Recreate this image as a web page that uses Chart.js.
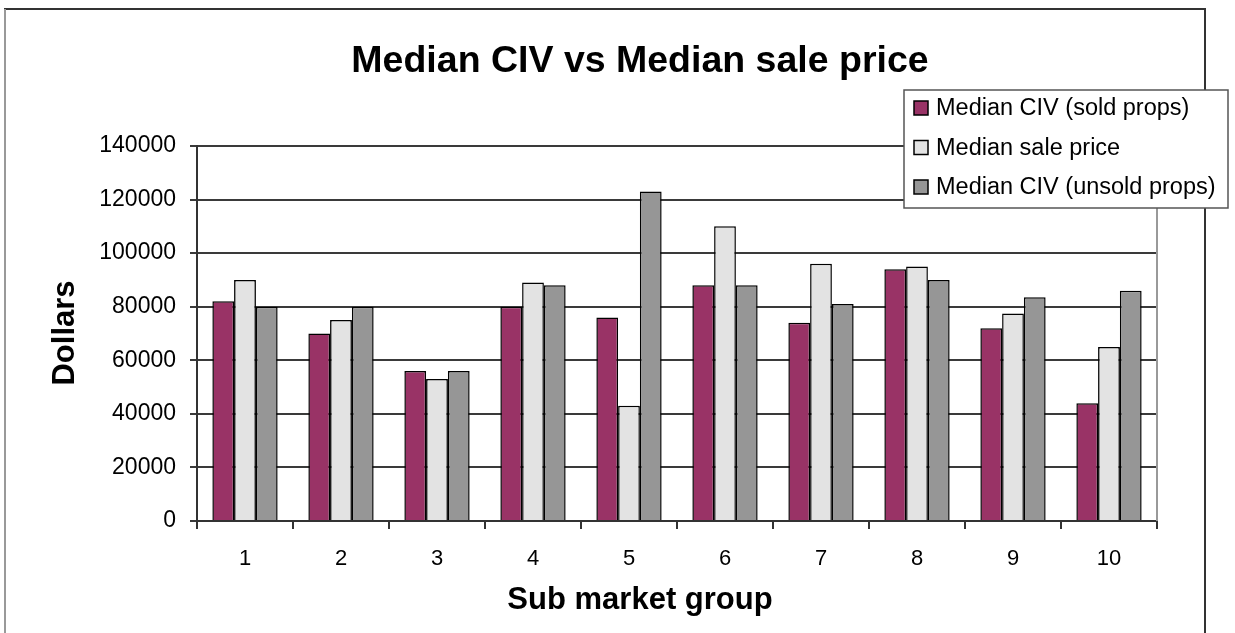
<!DOCTYPE html>
<html>
<head>
<meta charset="utf-8">
<script src="https://cdn.jsdelivr.net/npm/chart.js@4/dist/chart.umd.min.js"></script>
<style>
  html, body { margin: 0; padding: 0; background: #fff; }
  canvas { display: block; }
</style>
</head>
<body>
<canvas id="c" width="1235" height="633"></canvas>
<script>
const categories = ["1", "2", "3", "4", "5", "6", "7", "8", "9", "10"];
const soldCIV   = [82000, 70000, 56000, 80000, 76000, 88000, 74000, 94000, 72000, 44000];
const salePrice = [90000, 75000, 53000, 89000, 43000, 110000, 96000, 95000, 77500, 65000];
const unsoldCIV = [80000, 80000, 56000, 88000, 123000, 88000, 81000, 90000, 83500, 86000];
const seriesLabels = ["Median CIV (sold props)", "Median sale price", "Median CIV (unsold props)"];
const yTicks = [0, 20000, 40000, 60000, 80000, 100000, 120000, 140000];
const titleText = "Median CIV vs Median sale price";
const xTitle = "Sub market group";
const yTitle = "Dollars";

const FONT = '"Liberation Sans", Arial, sans-serif';

const decor = {
  id: 'decor',
  beforeDraw(chart) {
    const ctx = chart.ctx;
    ctx.save();
    ctx.fillStyle = '#fff';
    ctx.fillRect(0, 0, chart.width, chart.height);
    // outer frame
    ctx.lineWidth = 2;
    ctx.strokeStyle = '#333';
    ctx.beginPath();
    ctx.moveTo(5, 640); ctx.lineTo(5, 9); ctx.lineTo(1205, 9); ctx.lineTo(1205, 640);
    ctx.stroke();
    ctx.strokeStyle = '#999';
    ctx.beginPath(); ctx.moveTo(5, 9); ctx.lineTo(5, 640); ctx.stroke();
    ctx.restore();
  },
  afterDraw(chart) {
    const ctx = chart.ctx;
    const a = chart.chartArea;
    ctx.save();
    // right border of plot area
    ctx.strokeStyle = '#999';
    ctx.lineWidth = 2;
    ctx.beginPath(); ctx.moveTo(a.right, a.top); ctx.lineTo(a.right, a.bottom); ctx.stroke();
    // title
    ctx.fillStyle = '#000';
    ctx.textAlign = 'center';
    ctx.textBaseline = 'middle';
    ctx.font = 'bold 37.5px ' + FONT;
    ctx.fillText(titleText, 640, 62);
    // axis titles
    ctx.font = 'bold 31px ' + FONT;
    ctx.fillText(xTitle, 640, 600);
    ctx.save();
    ctx.translate(65, 333);
    ctx.rotate(-Math.PI / 2);
    ctx.fillText(yTitle, 0, 0);
    ctx.restore();
    // legend
    const lx = 904, ly = 90, lw = 324, lh = 118;
    ctx.fillStyle = '#fff';
    ctx.fillRect(lx, ly, lw, lh);
    ctx.strokeStyle = '#555';
    ctx.lineWidth = 1.5;
    ctx.strokeRect(lx, ly, lw, lh);
    ctx.font = '23.5px ' + FONT;
    ctx.textAlign = 'left';
    ctx.textBaseline = 'middle';
    chart.data.datasets.forEach((ds, i) => {
      const cy = 108 + i * 39.5;
      ctx.fillStyle = ds.backgroundColor;
      ctx.fillRect(914, cy - 7, 14, 14);
      ctx.strokeStyle = '#000';
      ctx.lineWidth = 1.5;
      ctx.strokeRect(914, cy - 7, 14, 14);
      ctx.fillStyle = '#000';
      ctx.fillText(ds.label, 936, cy + 1);
    });
    ctx.restore();
  }
};

new Chart(document.getElementById('c'), {
  type: 'bar',
  data: {
    labels: categories,
    datasets: [
      { label: seriesLabels[0], data: soldCIV,   backgroundColor: '#993366' },
      { label: seriesLabels[1], data: salePrice, backgroundColor: '#E3E3E3' },
      { label: seriesLabels[2], data: unsoldCIV, backgroundColor: '#969696' }
    ]
  },
  options: {
    responsive: false,
    animation: false,
    devicePixelRatio: 1,
    layout: { padding: { left: 0, top: 146, right: 78, bottom: 62 } },
    datasets: {
      bar: {
        categoryPercentage: 0.68,
        barPercentage: 1.0,
        borderColor: '#000',
        borderWidth: 1.5
      }
    },
    plugins: {
      legend: { display: false },
      title: { display: false },
      tooltip: { enabled: false }
    },
    scales: {
      x: {
        afterFit(s) { s.height = 50; },
        grid: { drawOnChartArea: false, drawTicks: true, tickLength: 8, color: '#333', lineWidth: 2 },
        border: { color: '#333', width: 2 },
        ticks: { color: '#000', font: { family: FONT, size: 22 }, padding: 17 }
      },
      y: {
        min: 0,
        max: 140000,
        afterFit(s) { s.width = 197; },
        afterBuildTicks(s) { s.ticks = yTicks.map(v => ({ value: v })); },
        grid: { color: '#3a3a3a', lineWidth: 2, tickLength: 7 },
        border: { color: '#333', width: 2 },
        ticks: {
          color: '#000',
          font: { family: FONT, size: 23 },
          padding: 14,
          callback: v => String(v)
        }
      }
    }
  },
  plugins: [decor]
});
</script>
</body>
</html>
